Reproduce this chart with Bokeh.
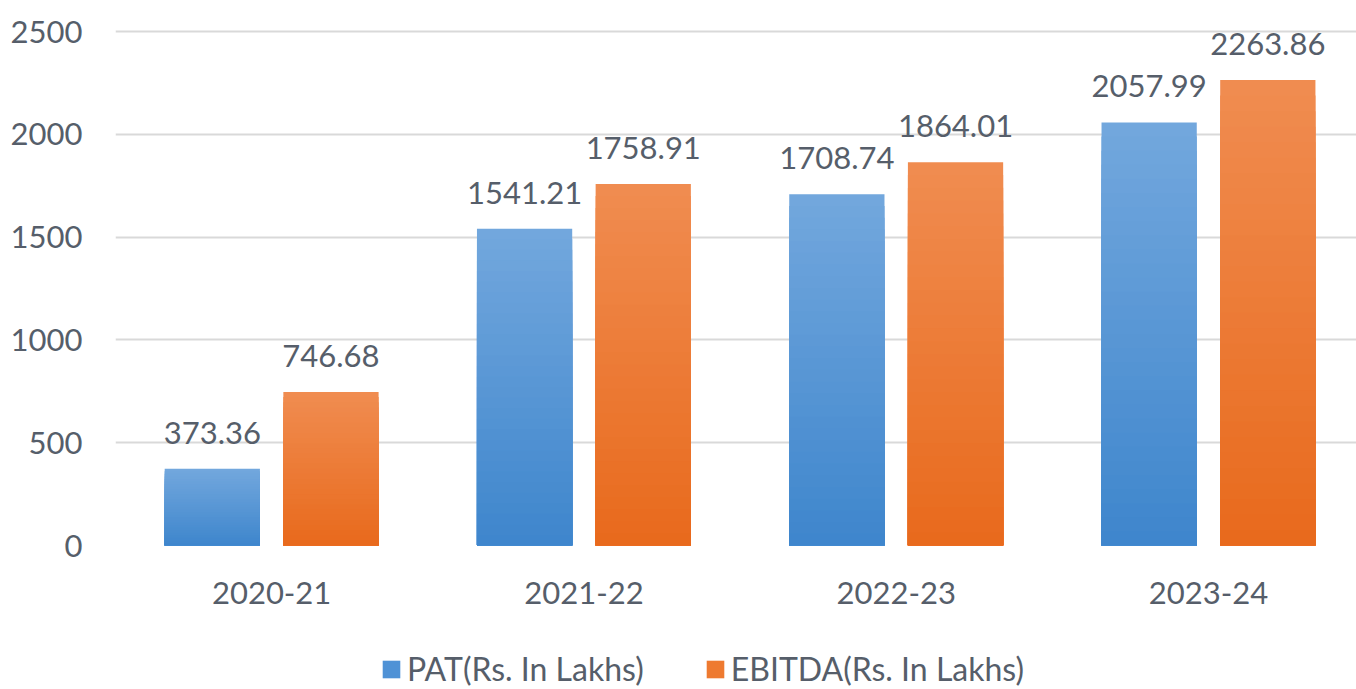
from bokeh.plotting import figure
from bokeh.layouts import column
from bokeh.models import Range1d, FixedTicker, Legend, LegendItem, ColumnDataSource, LabelSet
from bokeh.core.properties import value
from bokeh.embed import file_html
from bokeh.resources import INLINE

categories = ["2020-21", "2021-22", "2022-23", "2023-24"]
pat = [373.36, 1541.21, 1708.74, 2057.99]
ebitda = [746.68, 1758.91, 1864.01, 2263.86]
series_names = ["PAT(Rs. In Lakhs)", "EBITDA(Rs. In Lakhs)"]
y_ticks = [0, 500, 1000, 1500, 2000, 2500]

FONT = "Lato"
TXT = "#565e6a"

p = figure(width=1356, height=640, output_backend="svg", toolbar_location=None,
           x_range=Range1d(-0.5, 3.474), y_range=Range1d(0, 2510),
           min_border_left=115, min_border_right=0, min_border_top=29, min_border_bottom=95)
p.outline_line_color = None
p.background_fill_color = "white"
p.border_fill_color = "white"

def lerp(c1, c2, t):
    a = [int(c1[i:i+2], 16) for i in (1, 3, 5)]
    b = [int(c2[i:i+2], 16) for i in (1, 3, 5)]
    return "#%02x%02x%02x" % tuple(round(a[k] + (b[k] - a[k]) * t) for k in range(3))

N = 30
xs = list(range(len(categories)))
offset = 0.19
bw = 0.305
grads = [("#72a7dd", "#3d85cc"), ("#f08c50", "#e8691b")]
legend_cols = ["#4f92d6", "#ee7a30"]
for si, vals in enumerate([pat, ebitda]):
    xpos = [x + (offset if si else -offset) for x in xs]
    for k in range(N, 0, -1):
        t = 1 - k / N
        col = lerp(grads[si][0], grads[si][1], t)
        tops = [v * k / N for v in vals]
        p.vbar(x=xpos, top=tops, bottom=0, width=bw, fill_color=col, line_color=None)
    src = ColumnDataSource(dict(x=xpos, y=vals, t=["%.2f" % v for v in vals]))
    p.add_layout(LabelSet(x="x", y="y", text="t", source=src, text_align="center",
                          text_baseline="bottom", y_offset=25, text_font=value(FONT),
                          text_font_size="31px", text_color=TXT))

p.xgrid.grid_line_color = None
p.ygrid.grid_line_color = "#d9d9d9"
p.ygrid.grid_line_width = 2
p.yaxis.ticker = FixedTicker(ticks=y_ticks)
p.xaxis.ticker = FixedTicker(ticks=xs)
p.xaxis.major_label_overrides = {i: c for i, c in enumerate(categories)}
for ax in (p.xaxis, p.yaxis):
    ax.axis_line_color = None
    ax.major_tick_line_color = None
    ax.minor_tick_line_color = None
    ax.major_label_text_font = FONT
    ax.major_label_text_font_size = "31px"
    ax.major_label_text_color = TXT
p.yaxis.major_label_standoff = 27
p.xaxis.major_label_standoff = 30

# legend figure (its renderers are zero-size and outside its visible range; only the legend shows)
lf = figure(width=1356, height=49, output_backend="svg", toolbar_location=None,
            x_range=Range1d(-101, -100), y_range=Range1d(-20000, -19999),
            min_border_left=115, min_border_right=0, min_border_top=0, min_border_bottom=0)
lf.axis.visible = False
lf.grid.visible = False
lf.outline_line_color = None
lf.border_fill_color = "white"
lf.background_fill_color = "white"
lrs = [lf.vbar(x=xs, top=v, bottom=v, width=0, fill_color=legend_cols[i], line_color=None)
       for i, v in enumerate([pat, ebitda])]
legend = Legend(items=[LegendItem(label=series_names[i], renderers=[lrs[i]]) for i in range(2)],
                orientation="horizontal", location=(265, 1))
legend.label_text_font = FONT
legend.label_text_font_size = "32px"
legend.label_text_color = TXT
legend.glyph_width = 22
legend.glyph_height = 22
legend.label_standoff = 5
legend.spacing = 60
legend.border_line_color = None
legend.background_fill_alpha = 0
legend.padding = 0
legend.margin = 0
lf.add_layout(legend, "center")

layout = column(p, lf, spacing=0)
open("out.html", "w").write(file_html(layout, INLINE))
